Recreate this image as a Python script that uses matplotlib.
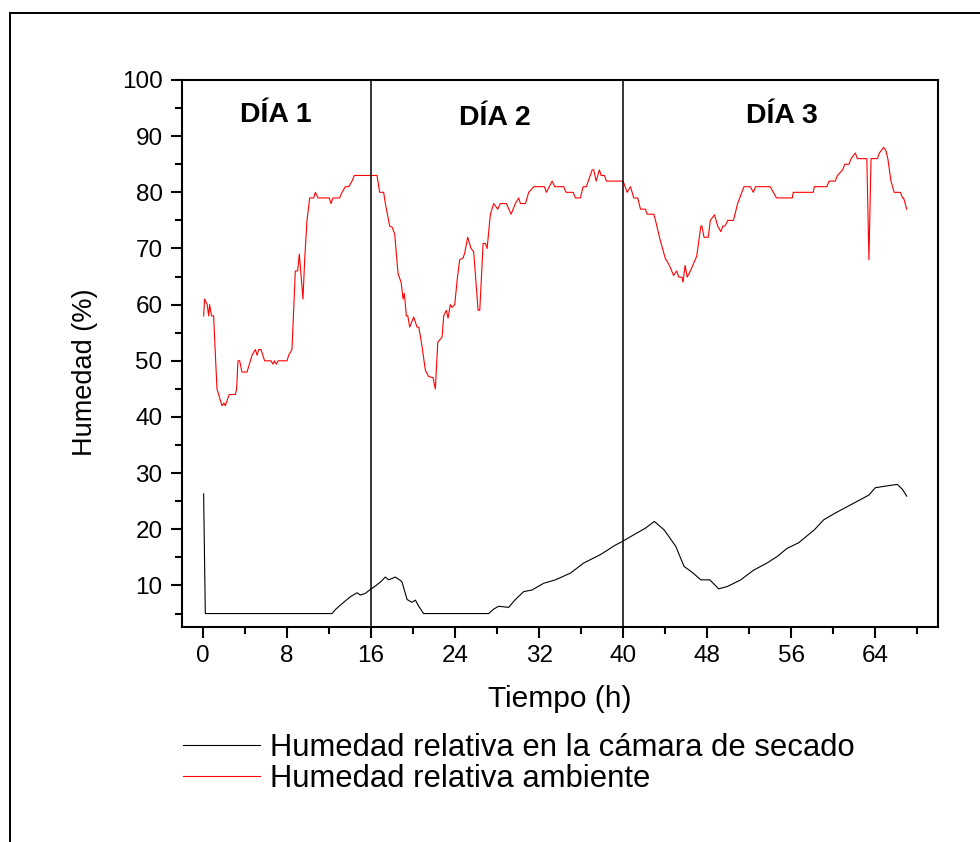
import matplotlib
matplotlib.use("Agg")
import matplotlib.pyplot as plt
from matplotlib.lines import Line2D

plt.rcParams['font.family'] = ['Liberation Sans', 'DejaVu Sans']

# ---- data ----
t_amb = [0.06, 0.15, 0.4, 0.54, 0.63, 0.82, 1.01, 1.33, 1.65, 1.81, 2.0, 2.12, 2.5, 3.08, 3.2,
         3.33, 3.49, 3.71, 4.19, 4.67, 4.98, 5.15, 5.3, 5.52, 5.87, 6.47, 6.67, 6.8, 6.98, 7.14,
         8.0, 8.16, 8.47, 8.79, 9.01, 9.17, 9.52, 9.68, 9.9, 10.16, 10.54, 10.7, 10.95, 12.03,
         12.19, 12.38, 13.0, 13.24, 13.55, 13.87, 14.19, 14.41, 16.57, 16.82, 17.2, 17.36, 17.77,
         18.0, 18.25, 18.57, 18.86, 19.05, 19.17, 19.36, 19.5, 19.68, 20.06, 20.38, 20.55, 20.86,
         21.17, 21.49, 21.9, 22.12, 22.35, 22.76, 22.92, 23.17, 23.33, 23.55, 23.71, 23.97, 24.19,
         24.44, 24.76, 24.92, 25.2, 25.52, 25.77, 26.19, 26.35, 26.67, 26.89, 27.05, 27.36, 27.68,
         28.06, 28.31, 28.89, 29.33, 29.74, 30.06, 30.22, 30.7, 31.01, 31.49, 32.5, 32.7, 33.24,
         33.49, 34.34, 34.57, 35.24, 35.46, 35.93, 36.19, 36.5, 37.05, 37.2, 37.43, 37.74, 37.9,
         38.22, 38.41, 40.0, 40.38, 40.7, 41.01, 41.39, 41.65, 42.12, 42.29, 42.92, 43.08, 43.5,
         44.0, 44.4, 44.8, 45.1, 45.3, 45.6, 45.7, 45.9, 46.1, 46.4, 47.0, 47.4, 47.5, 47.7, 48.1,
         48.3, 48.7, 49.0, 49.3, 49.5, 49.7, 49.96, 50.5, 50.9, 51.5, 52.1, 52.4, 52.6, 54.0, 54.3,
         54.6, 56.1, 56.2, 58.1, 58.2, 59.4, 59.6, 60.2, 60.4, 60.9, 61.1, 61.5, 61.7, 62.1, 62.3,
         63.2, 63.4, 63.6, 64.2, 64.4, 64.8, 65.0, 65.2, 65.5, 65.8, 66.4, 66.6, 66.7, 67.0]
hr_amb = [58, 61, 60, 58, 60, 58, 58, 45, 43, 42, 42.5, 42, 44, 44, 45,
          50, 50, 48, 48, 51, 52, 51, 52, 52, 50, 50, 49.4, 50, 49.4, 50,
          50, 51, 52, 66, 66, 69, 61, 68, 75, 79, 79, 80, 79, 79,
          78, 79, 79, 80, 81, 81, 82, 83, 83, 80, 80, 78, 74,
          73.8, 72.6, 65.5, 64, 61, 62, 58, 58, 56, 57.8, 56, 56, 52.5,
          48.3, 47.2, 47, 45, 53.3, 54.2, 58, 59, 57.6, 60, 59.5, 60, 64.3,
          68, 68.3, 69.2, 72, 70, 69.4, 59, 59, 70.9, 70.9, 70, 76.1, 78,
          77, 78, 78, 76.1, 78, 79, 78, 78, 80, 81, 81, 80, 82,
          81, 81, 80, 80, 79, 79, 81, 81, 84, 84, 82, 84, 83,
          83, 82, 82, 80, 81, 79, 79, 77, 77, 76.1, 76.1, 75, 71.7,
          68.3, 67, 65.2, 66, 64.9, 64.9, 64, 67, 64.9, 66, 68.6, 74, 74, 72, 72,
          75, 76, 74, 73, 74, 74, 75, 75, 78, 81, 81, 80, 81, 81, 80,
          79, 79, 80, 80, 81, 81, 82, 82, 83, 84, 85, 85, 86, 87, 86,
          86, 68, 86, 86, 87, 88, 87.5, 86, 82, 80, 80, 79, 79, 77]

t_cam = [0.06, 0.22, 12.28, 12.6, 13.14, 14.03, 14.67, 14.98, 15.46, 15.87, 16.41, 16.95,
         17.36, 17.68, 18.31, 18.79, 18.95, 19.43, 19.9, 20.22, 20.54, 21.0, 27.2, 27.68,
         28.15, 29.1, 29.74, 30.53, 31.33, 32.44, 33.55, 34.98, 36.25, 37.84, 39.27, 39.9,
         41.17, 42.12, 42.97, 43.9, 45.0, 45.8, 46.6, 47.4, 48.25, 49.1, 49.9, 51.2, 52.4,
         53.7, 54.7, 55.6, 56.7, 58.2, 59.1, 60.2, 61.6, 62.8, 63.4, 64.0, 65.0, 66.1, 66.6, 67.0]
hr_cam = [26.3, 5.0, 5.0, 5.7, 6.6, 8.0, 8.7, 8.3, 8.6, 9.2, 9.9, 10.7,
          11.5, 11.0, 11.5, 10.9, 10.6, 7.5, 7.0, 7.4, 6.3, 5.0, 5.0, 5.8,
          6.3, 6.1, 7.5, 8.9, 9.2, 10.4, 11.0, 12.2, 14.0, 15.5, 17.2, 17.8,
          19.2, 20.2, 21.4, 19.9, 17.0, 13.4, 12.3, 11.0, 11.0, 9.4, 9.8, 11.0, 12.7,
          14.0, 15.2, 16.6, 17.6, 19.9, 21.7, 22.9, 24.3, 25.5, 26.1, 27.4, 27.7, 28.0, 27.1, 25.9]

day_bounds = [16, 40]
day_labels = ['DÍA 1', 'DÍA 2', 'DÍA 3']
day_label_x = [6.9, 27.8, 55.1]
day_label_y = [93.8, 93.2, 93.6]

# ---- figure ----
fig = plt.figure(figsize=(9.8, 8.42), dpi=100)
ax = fig.add_axes([0.1857, 0.2553, 0.7717, 0.6497])

ax.plot(t_cam, hr_cam, color='black', lw=0.8, label='Humedad relativa en la cámara de secado')
ax.plot(t_amb, hr_amb, color='#ff0000', lw=0.8, label='Humedad relativa ambiente')
for xb in day_bounds:
    ax.axvline(xb, color='black', lw=1.1)
for lab, xl, yl in zip(day_labels, day_label_x, day_label_y):
    ax.text(xl, yl, lab, ha='center', va='center', fontsize=20.5, fontweight='bold')

ax.set_xlim(-2, 70)
ax.set_ylim(2.6, 100)
ax.set_xticks(range(0, 65, 8))
ax.set_xticks(range(4, 70, 8), minor=True)
ax.set_yticks(range(10, 101, 10))
ax.set_yticks(range(5, 100, 10), minor=True)
ax.tick_params(which='major', direction='out', length=8, width=1.5, labelsize=17.5, pad=5)
ax.tick_params(which='minor', direction='out', length=5, width=1.5)
ax.tick_params(axis='y', which='major', pad=6)
for s in ax.spines.values():
    s.set_linewidth(1.5)

ax.set_xlabel('Tiempo (h)', fontsize=21.5)
ax.xaxis.set_label_coords(0.499, -0.106)
ax.set_ylabel('Humedad (%)', fontsize=19.5)
ax.yaxis.set_label_coords(-0.111, 0.466)

fig.legend(loc='upper left', bbox_to_anchor=(0.1867, 0.13), frameon=False, fontsize=22.3,
           handlelength=2.5, handletextpad=0.3, labelspacing=0.05, borderpad=0, borderaxespad=0)

# outer frame
fig.add_artist(Line2D([0.0102, 1.0], [0.9846, 0.9846], transform=fig.transFigure, color='black', lw=1.4))
fig.add_artist(Line2D([0.0102, 0.0102], [0.0, 0.9846], transform=fig.transFigure, color='black', lw=1.4))

fig.savefig('out.png', dpi=100)
